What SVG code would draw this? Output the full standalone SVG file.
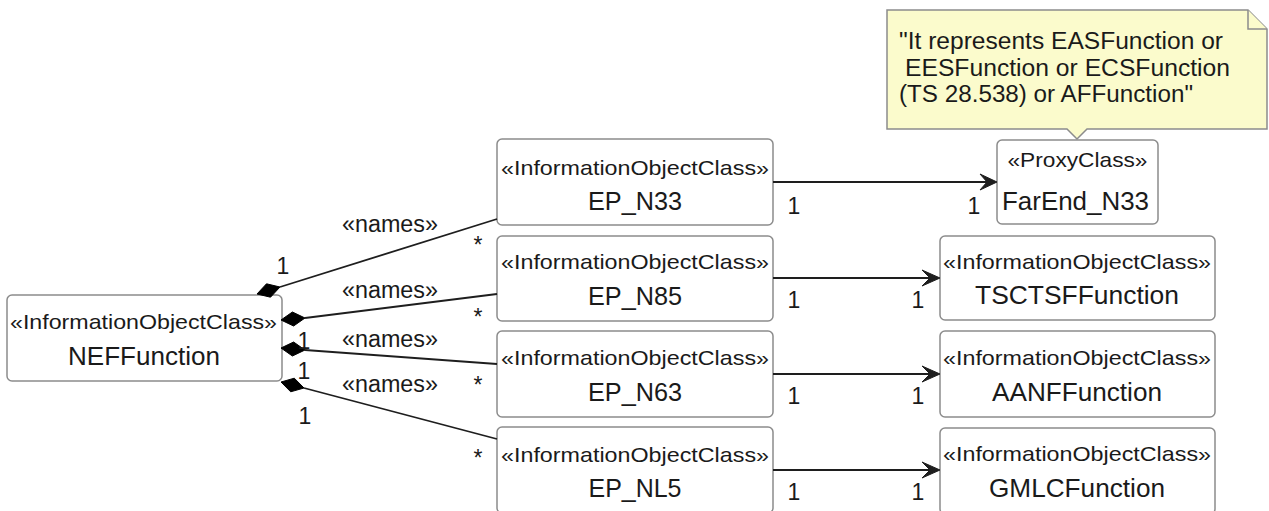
<svg xmlns="http://www.w3.org/2000/svg" width="1269" height="511" viewBox="0 0 1269 511">
<style>
.box{fill:#ffffff;stroke:#8c8c8c;stroke-width:1.5}
.note{fill:#fbfbcc;stroke:#8c8c8c;stroke-width:1.5}
.st{font-family:"Liberation Sans",Arial,sans-serif;font-size:21px;fill:#1a1a1a;text-anchor:middle}
.nm{font-family:"Liberation Sans",Arial,sans-serif;font-size:25px;fill:#1a1a1a;text-anchor:middle}
.lb{font-family:"Liberation Sans",Arial,sans-serif;font-size:23px;fill:#1a1a1a}
.mu{font-family:"Liberation Sans",Arial,sans-serif;font-size:23px;fill:#1a1a1a;text-anchor:middle}
.nt{font-family:"Liberation Sans",Arial,sans-serif;font-size:23px;fill:#1a1a1a}
.ln{fill:none;stroke:#1e1e1e;stroke-width:1.8}
.dia{fill:#000000;stroke:#000000;stroke-width:1}
.ah{fill:#1e1e1e;stroke:#1e1e1e;stroke-width:1}
</style>
<rect width="1269" height="511" fill="#ffffff"/>

<g id="note">
<path class="note" d="M887,10 H1248 L1267,29 V129 H1087 L1077,139 L1067,129 H887 Z"/>
<path class="note" d="M1248,10 V29 H1267"/>
<text class="nt" x="899" y="49" textLength="324" lengthAdjust="spacingAndGlyphs">"It represents EASFunction or</text>
<text class="nt" x="905" y="76" textLength="325" lengthAdjust="spacingAndGlyphs">EESFunction or ECSFunction</text>
<text class="nt" x="899" y="102" textLength="294" lengthAdjust="spacingAndGlyphs">(TS 28.538) or AFFunction"</text>
</g>

<g id="NEFFunction">
<rect class="box" x="7" y="295" width="275" height="86" rx="5"/>
<text class="st" x="143.5" y="329" textLength="267" lengthAdjust="spacingAndGlyphs">«InformationObjectClass»</text>
<text class="nm" x="144" y="365" textLength="152" lengthAdjust="spacingAndGlyphs">NEFFunction</text>
</g>

<g id="EP_N33">
<rect class="box" x="497" y="139" width="276" height="86" rx="5"/>
<text class="st" x="635" y="175" textLength="268" lengthAdjust="spacingAndGlyphs">«InformationObjectClass»</text>
<text class="nm" x="635" y="210" textLength="94" lengthAdjust="spacingAndGlyphs">EP_N33</text>
</g>

<g id="EP_N85">
<rect class="box" x="497" y="236" width="276" height="85" rx="5"/>
<text class="st" x="635" y="269" textLength="268" lengthAdjust="spacingAndGlyphs">«InformationObjectClass»</text>
<text class="nm" x="635" y="305" textLength="94" lengthAdjust="spacingAndGlyphs">EP_N85</text>
</g>

<g id="EP_N63">
<rect class="box" x="497" y="331" width="276" height="86" rx="5"/>
<text class="st" x="635" y="365" textLength="268" lengthAdjust="spacingAndGlyphs">«InformationObjectClass»</text>
<text class="nm" x="635" y="401" textLength="94" lengthAdjust="spacingAndGlyphs">EP_N63</text>
</g>

<g id="EP_NL5">
<rect class="box" x="497" y="427" width="276" height="86" rx="5"/>
<text class="st" x="635" y="462" textLength="268" lengthAdjust="spacingAndGlyphs">«InformationObjectClass»</text>
<text class="nm" x="635" y="497" textLength="93" lengthAdjust="spacingAndGlyphs">EP_NL5</text>
</g>

<g id="FarEnd_N33">
<rect class="box" x="997" y="140" width="161" height="84" rx="5"/>
<text class="st" x="1077.5" y="167" textLength="140" lengthAdjust="spacingAndGlyphs">«ProxyClass»</text>
<text class="nm" x="1075.5" y="210" textLength="147" lengthAdjust="spacingAndGlyphs">FarEnd_N33</text>
</g>

<g id="TSCTSFFunction">
<rect class="box" x="940" y="236" width="275" height="84" rx="5"/>
<text class="st" x="1077" y="269" textLength="268" lengthAdjust="spacingAndGlyphs">«InformationObjectClass»</text>
<text class="nm" x="1077" y="304" textLength="204" lengthAdjust="spacingAndGlyphs">TSCTSFFunction</text>
</g>

<g id="AANFFunction">
<rect class="box" x="940" y="331" width="275" height="86" rx="5"/>
<text class="st" x="1077" y="365" textLength="268" lengthAdjust="spacingAndGlyphs">«InformationObjectClass»</text>
<text class="nm" x="1077" y="401" textLength="170" lengthAdjust="spacingAndGlyphs">AANFFunction</text>
</g>

<g id="GMLCFunction">
<rect class="box" x="940" y="428" width="275" height="86" rx="5"/>
<text class="st" x="1077" y="461" textLength="268" lengthAdjust="spacingAndGlyphs">«InformationObjectClass»</text>
<text class="nm" x="1077" y="497" textLength="176" lengthAdjust="spacingAndGlyphs">GMLCFunction</text>
</g>

<g id="connectors">
<line class="ln" x1="280" y1="287" x2="497" y2="219"/>
<polygon class="dia" points="257,294 270.5,297.2 280,287 266.5,283.8"/>
<line class="ln" x1="305" y1="318" x2="497" y2="294"/>
<polygon class="dia" points="281,320 293.6,326 305,318 292.4,312"/>
<line class="ln" x1="305" y1="350" x2="497" y2="364"/>
<polygon class="dia" points="281,348 292.4,356 305,350 293.6,342"/>
<line class="ln" x1="304" y1="388" x2="497" y2="439"/>
<polygon class="dia" points="281,382 290.7,391.8 304,388 294.3,378.2"/>

<text class="lb" x="342" y="232" textLength="96" lengthAdjust="spacingAndGlyphs">«names»</text>
<text class="lb" x="342" y="298" textLength="96" lengthAdjust="spacingAndGlyphs">«names»</text>
<text class="lb" x="342" y="347" textLength="96" lengthAdjust="spacingAndGlyphs">«names»</text>
<text class="lb" x="342" y="392" textLength="96" lengthAdjust="spacingAndGlyphs">«names»</text>

<text class="mu" x="283" y="274">1</text>
<text class="mu" x="304" y="349">1</text>
<text class="mu" x="304" y="379">1</text>
<text class="mu" x="305" y="424">1</text>

<text class="mu" x="478" y="253">*</text>
<text class="mu" x="478" y="325">*</text>
<text class="mu" x="478" y="393">*</text>
<text class="mu" x="478" y="466">*</text>

<line class="ln" x1="773" y1="182" x2="990" y2="182"/>
<polygon class="ah" points="997,182 980,174 987,182 980,190"/>
<line class="ln" x1="773" y1="278" x2="933" y2="278"/>
<polygon class="ah" points="940,278 922,270 930,278 922,286"/>
<line class="ln" x1="773" y1="374" x2="933" y2="374"/>
<polygon class="ah" points="940,374 922,366 930,374 922,382"/>
<line class="ln" x1="773" y1="470" x2="933" y2="470"/>
<polygon class="ah" points="940,470 922,462 930,470 922,478"/>

<text class="mu" x="794" y="214">1</text>
<text class="mu" x="974" y="214">1</text>
<text class="mu" x="794" y="308">1</text>
<text class="mu" x="918" y="308">1</text>
<text class="mu" x="794" y="404">1</text>
<text class="mu" x="918" y="404">1</text>
<text class="mu" x="794" y="500">1</text>
<text class="mu" x="918" y="500">1</text>
</g>
</svg>
